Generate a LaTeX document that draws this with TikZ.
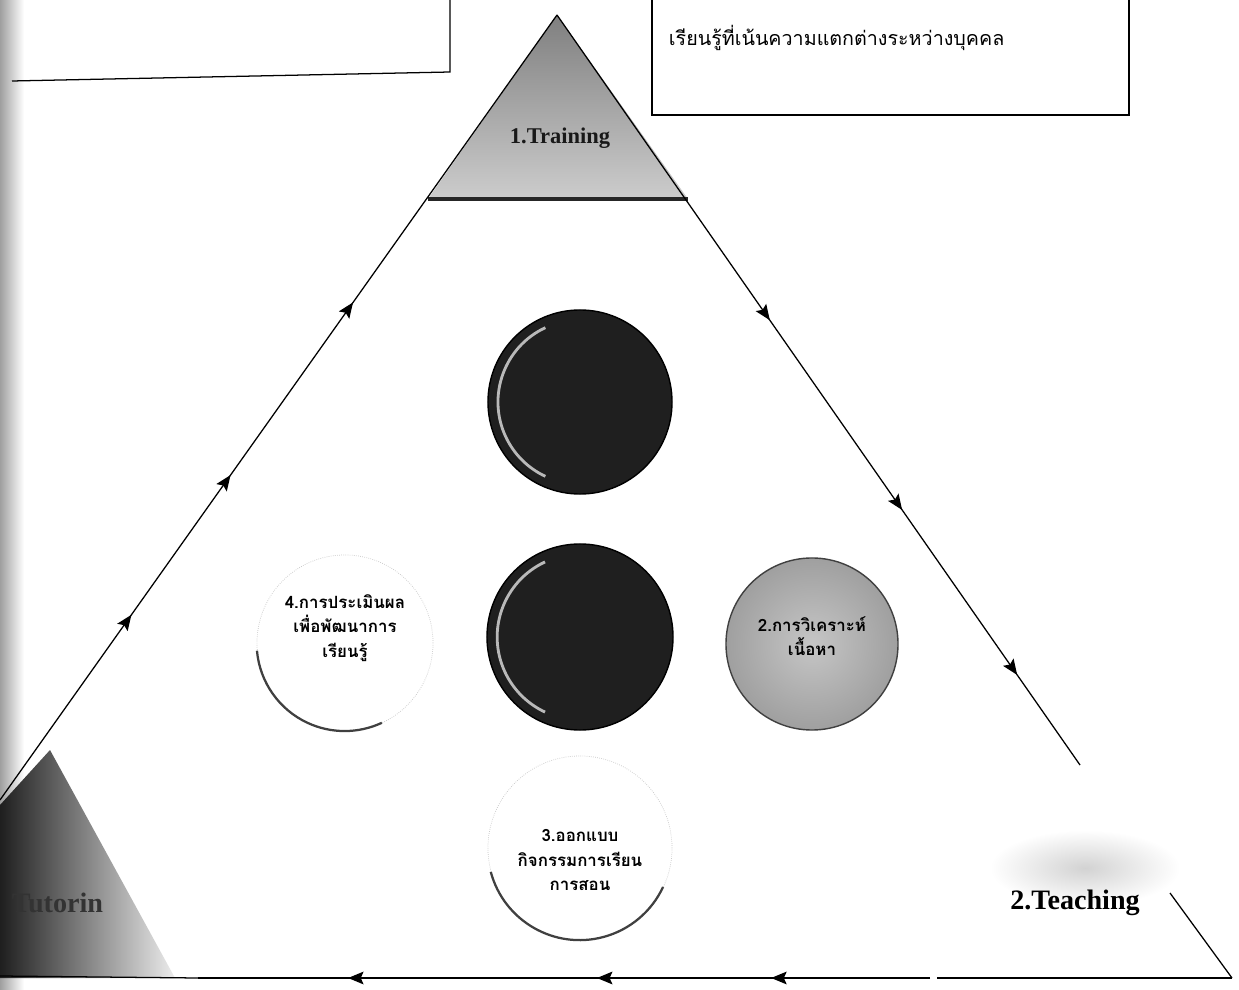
\documentclass[tikz,border=0pt]{standalone}
\usepackage{fontspec}
\setmainfont{Liberation Serif}
\newfontfamily\thaifont[Script=Thai]{Loma}
\usetikzlibrary{arrows.meta,decorations.markings}

\begin{document}
\begin{tikzpicture}[x=0.025cm, y=-0.025cm,
  side/.style={line width=0.9pt, black},
  tips/.style n args={3}{postaction={decorate}, decoration={markings,
    mark=at position #1 with {\arrow{Stealth[length=11pt,width=9pt,inset=2pt]}},
    mark=at position #2 with {\arrow{Stealth[length=11pt,width=9pt,inset=2pt]}},
    mark=at position #3 with {\arrow{Stealth[length=11pt,width=9pt,inset=2pt]}}}},
  darkball/.style={circle, inner sep=0pt, minimum size=#1, fill=black!88, draw=black, line width=1pt},
  greyball/.style={circle, inner sep=0pt, minimum size=#1, inner color=gray!45, outer color=gray!75, draw=black!75, line width=1pt},
  paleball/.style={circle, inner sep=0pt, minimum size=#1, fill=white, draw=gray!45, densely dotted, line width=0.5pt},
  steptext/.style={align=center, font=\thaifont\bfseries\fontsize{12pt}{17.5pt}\selectfont},
  rolelabel/.style={font=\bfseries\fontsize{#1}{#1}\selectfont}
]
\useasboundingbox (0,0) rectangle (1239,990);
\clip (0,0) rectangle (1239,990);
\fill[white] (0,0) rectangle (1239,990);

% Scanned edge on the left
\shade[left color=gray!75, right color=white] (0,0) rectangle (24,990);

% Boxes at the top
\draw[side] (450,-5) -- (450,72) -- (12,81);
\draw[side] (652,-5) -- (652,115) -- (1129,115) -- (1129,-5);
\node[anchor=west, font=\thaifont\fontsize{14pt}{16pt}\selectfont] (note) at (664,38)
  {เรียนรู้ที่เน้นความแตกต่างระหว่างบุคคล};

% Corner points
\coordinate (apex) at (557,15);
\coordinate (topl) at (428,199);
\coordinate (topr) at (688,199);
\coordinate (lfoot) at (0,800);
\coordinate (rmid) at (1080,765);
\coordinate (rlow) at (1170,893);
\coordinate (rfoot) at (1232,978);
\coordinate (bstart) at (930,978);
\coordinate (bend) at (198,978);

% Top corner: Training
\shade[top color=black!50, middle color=black!72, bottom color=black!20] (apex) -- (topl) -- (topr) -- cycle;
\draw[line width=2.2pt, black!85] (topl) -- (topr);
\node[rolelabel=16pt, text=black!90] (training) at (560,138) {1.Training};

% Bottom left corner: Tutoring
\shade[left color=black!88, right color=gray!15] (50,750) -- (175,978) -- (0,978) -- (0,805) -- cycle;
\draw[side] (0,976) -- (bend);
\node[rolelabel=20pt, text=black!80, anchor=east] (tutor) at (108,903) {Tutorin};

% Bottom right corner: Teaching
\shade[inner color=gray!35, outer color=white] (1085,868) ellipse [x radius=95, y radius=38];
\draw[side] (rlow) -- (rfoot);
\draw[line width=1.2pt] (937,978) -- (rfoot);
\node[rolelabel=20pt] (teaching) at (1075,903) {2.Teaching};

% Sides of the cycle
\draw[side, tips={0.236}{0.414}{0.634}] (lfoot) -- (apex);
\draw[side, tips={0.407}{0.66}{0.88}] (apex) -- (rmid);
\draw[side, line width=1.2pt, tips={0.217}{0.455}{0.795}] (bstart) -- (bend);

% Circles in the middle
\node[darkball=4.6cm] (core1) at (580,402) {};
\draw[gray!55, line width=2pt] (core1.center) ++(115:2.05cm) arc[start angle=115, end angle=245, radius=2.05cm];
\node[darkball=4.65cm] (core2) at (580,637) {};
\draw[gray!55, line width=2pt] (core2.center) ++(115:2.07cm) arc[start angle=115, end angle=245, radius=2.07cm];

\node[paleball=4.4cm] (step4) at (345,643) {};
\draw[black!75, line width=1.6pt] (step4.185) arc[start angle=185, end angle=295, radius=2.2cm];
\node[steptext] (text4) at (345,628) {4.การประเมินผล\\เพื่อพัฒนาการ\\เรียนรู้};

\node[greyball=4.3cm] (step2) at (812,644) {};
\node[steptext] (text2) at (812,636) {2.การวิเคราะห์\\เนื้อหา};

\node[paleball=4.6cm] (step3) at (580,848) {};
\draw[black!75, line width=1.6pt] (step3.195) arc[start angle=195, end angle=335, radius=2.3cm];
\node[steptext] (text3) at (580,860) {3.ออกแบบ\\กิจกรรมการเรียน\\การสอน};

\end{tikzpicture}
\end{document}
